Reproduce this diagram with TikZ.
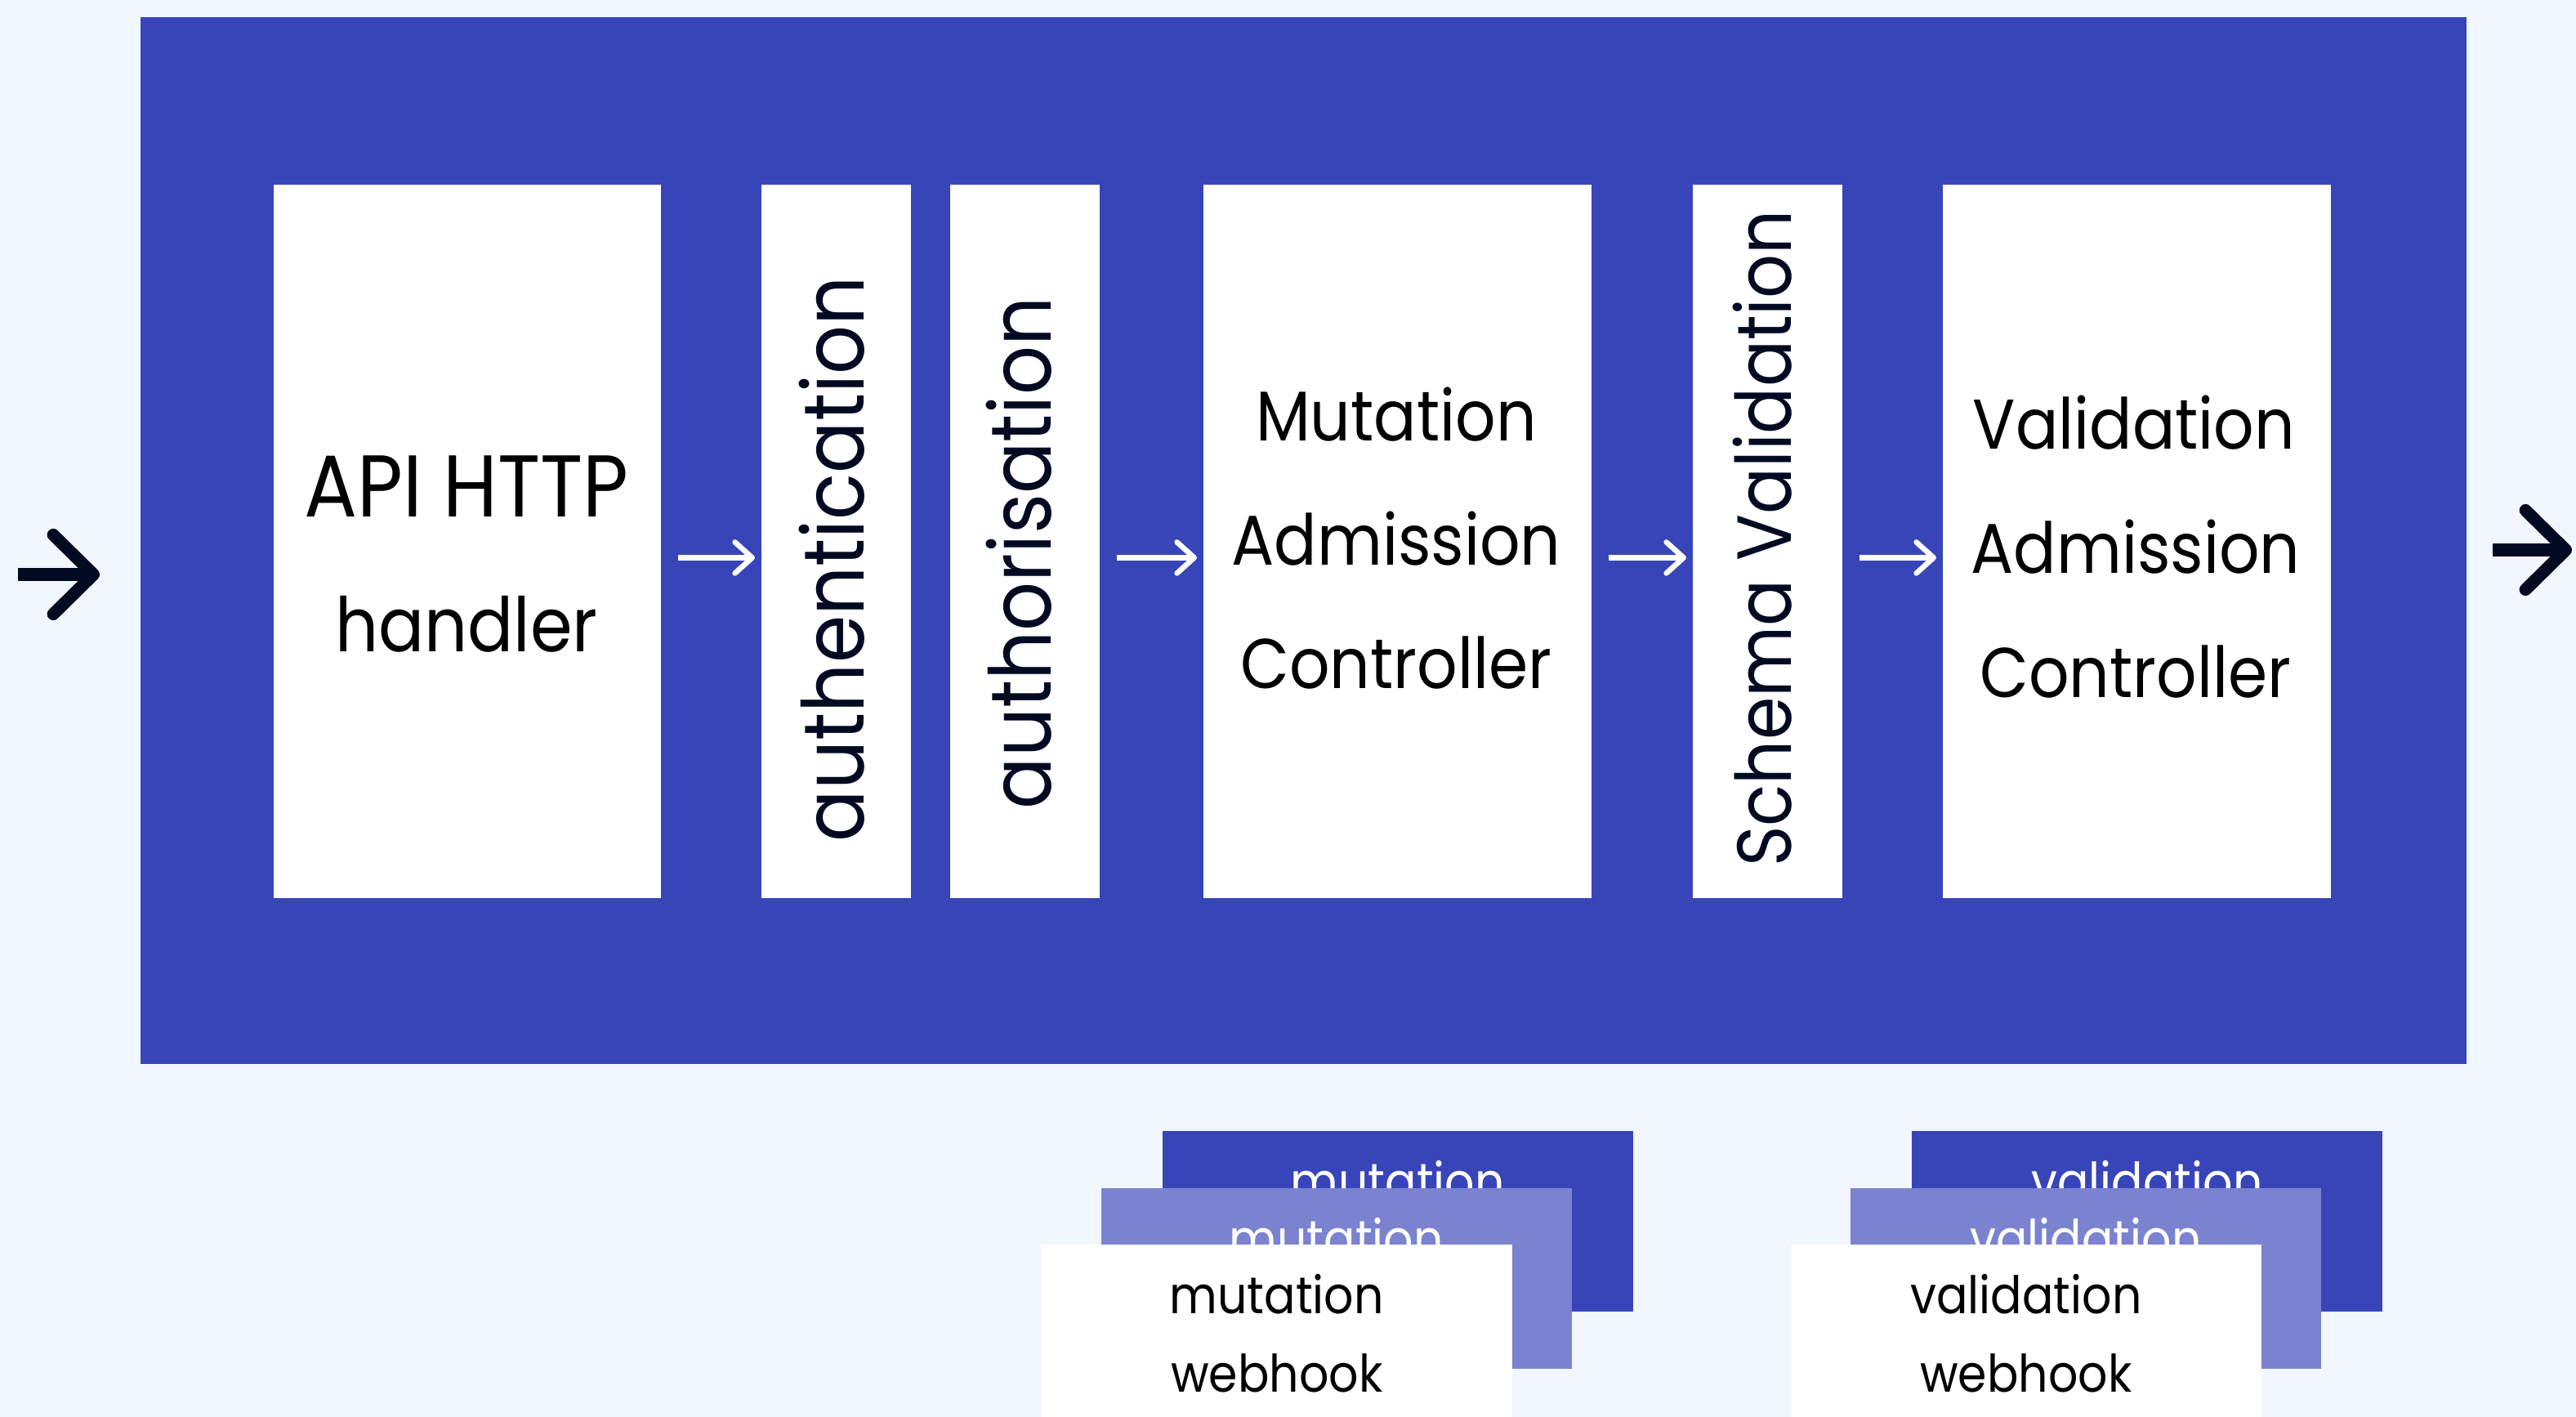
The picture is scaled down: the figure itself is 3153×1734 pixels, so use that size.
\documentclass[tikz,border=0pt]{standalone}
\usepackage{fontspec}
\setmainfont{Poppins}[FakeStretch=0.9]
\usetikzlibrary{arrows.meta,calc}
\definecolor{bgc}{HTML}{F2F6FF}
\definecolor{blue}{HTML}{3845B9}
\definecolor{lightblue}{HTML}{7B83D1}
\definecolor{inkc}{HTML}{020A22}
\tikzset{
 stage/.style={fill=white, inner sep=0pt, anchor=north west, minimum height=8.73cm},
 wide/.style={stage, minimum width=4.75cm},
 narrow/.style={stage, minimum width=1.83cm},
 lbl/.style={anchor=base, inner sep=0pt, text=black},
 biglbl/.style={lbl, font=\fontsize{30.5}{33}\selectfont},
 biglblb/.style={lbl, font=\fontsize{26.2}{30}\selectfont},
 midlbl/.style={lbl, font=\fontsize{24.5}{28}\selectfont},
 vlbl/.style={anchor=base, inner sep=0pt, rotate=90, text=inkc, font=\fontsize{29.7}{32}\selectfont},
 vlblb/.style={vlbl, font=\fontsize{26.7}{30}\selectfont},
 hook/.style={inner sep=0pt, anchor=north west, minimum width=5.76cm, minimum height=2.21cm},
 hooklbl/.style={anchor=base, inner sep=0pt, font=\fontsize{18}{20}\selectfont},
 flow/.style={draw=white, line width=1.85pt, -{Straight Barb[length=6pt,width=10.8pt,line cap=round,line join=round]}, shorten <=5.8pt, shorten >=2pt},
 ioarrow/.style={draw=inkc, line width=4.3pt, -{Straight Barb[length=14pt,width=27.6pt,line cap=round,line join=round]}},
}
\begin{document}
\begin{tikzpicture}[x=0.01cm,y=-0.01cm]
\useasboundingbox (0,0) rectangle (3153,1734);
\clip (0,0) rectangle (3153,1734);
\fill[bgc] (0,0) rectangle (3153,1734);
% main frame
\node[fill=blue, inner sep=0pt, anchor=north west, minimum width=28.46cm, minimum height=12.81cm] (frame) at (171,20) {};
% stages
\node[stage, minimum width=4.74cm] (api) at (334,225) {};
\node[narrow] (authn) at (931,225) {};
\node[narrow] (authz) at (1162,225) {};
\node[wide] (mut) at (1472,225) {};
\node[narrow] (schema) at (2071,225) {};
\node[wide] (val) at (2377,225) {};
% labels
\node[biglbl] (apiA) at (571,633) {API HTTP};
\node[biglblb] (apiB) at (571,798) {handler};
\node[midlbl] (mutA) at (1709,540) {Mutation};
\node[midlbl] (mutB) at (1709,692) {Admission};
\node[midlbl] (mutC) at (1709,843) {Controller};
\node[midlbl] (valA) at (2612,550) {Validation};
\node[midlbl] (valB) at (2614,702) {Admission};
\node[midlbl] (valC) at (2614,854) {Controller};
\node[vlbl] (authnL) at (1057,684) {authentication};
\node[vlbl] (authzL) at (1286,677) {authorisation};
\node[vlblb] (schemaL) at (2192,659) {Schema Validation};
% flow arrows
\draw[flow] ($(api.east)+(0,20)$) -- ($(authn.west)+(0,20)$);
\draw[flow] ($(authz.east)+(0,20)$) -- ($(mut.west)+(0,20)$);
\draw[flow] ($(mut.east)+(0,20)$) -- ($(schema.west)+(0,20)$);
\draw[flow] ($(schema.east)+(0,20)$) -- ($(val.west)+(0,20)$);
% in / out
\coordinate (inA) at (22,703);
\coordinate (inB) at (122,703);
\coordinate (outA) at (3051,673);
\coordinate (outB) at (3148,673);
\draw[ioarrow] (inA) -- (inB);
\draw[ioarrow] (outA) -- (outB);
% webhook stacks
\foreach \bx/\nm/\word in {1422/m/mutation, 2339/v/validation}{
  \node[hook, fill=blue] (\nm3) at (\bx,1383) {};
  \node[hooklbl, text=white] (\nm3a) at ($(\nm3.north)+(0,85)$) {\word};
  \node[hooklbl, text=white] (\nm3b) at ($(\nm3.north)+(0,181)$) {webhook};
  \node[hook, fill=lightblue] (\nm2) at (\bx-75,1453) {};
  \node[hooklbl, text=white] (\nm2a) at ($(\nm2.north)+(0,85)$) {\word};
  \node[hooklbl, text=white] (\nm2b) at ($(\nm2.north)+(0,181)$) {webhook};
  \node[hook, fill=white] (\nm1) at (\bx-148,1522) {};
  \node[hooklbl, text=black] (\nm1a) at ($(\nm1.north)+(0,85)$) {\word};
  \node[hooklbl, text=black] (\nm1b) at ($(\nm1.north)+(0,181)$) {webhook};
}
\end{tikzpicture}
\end{document}
